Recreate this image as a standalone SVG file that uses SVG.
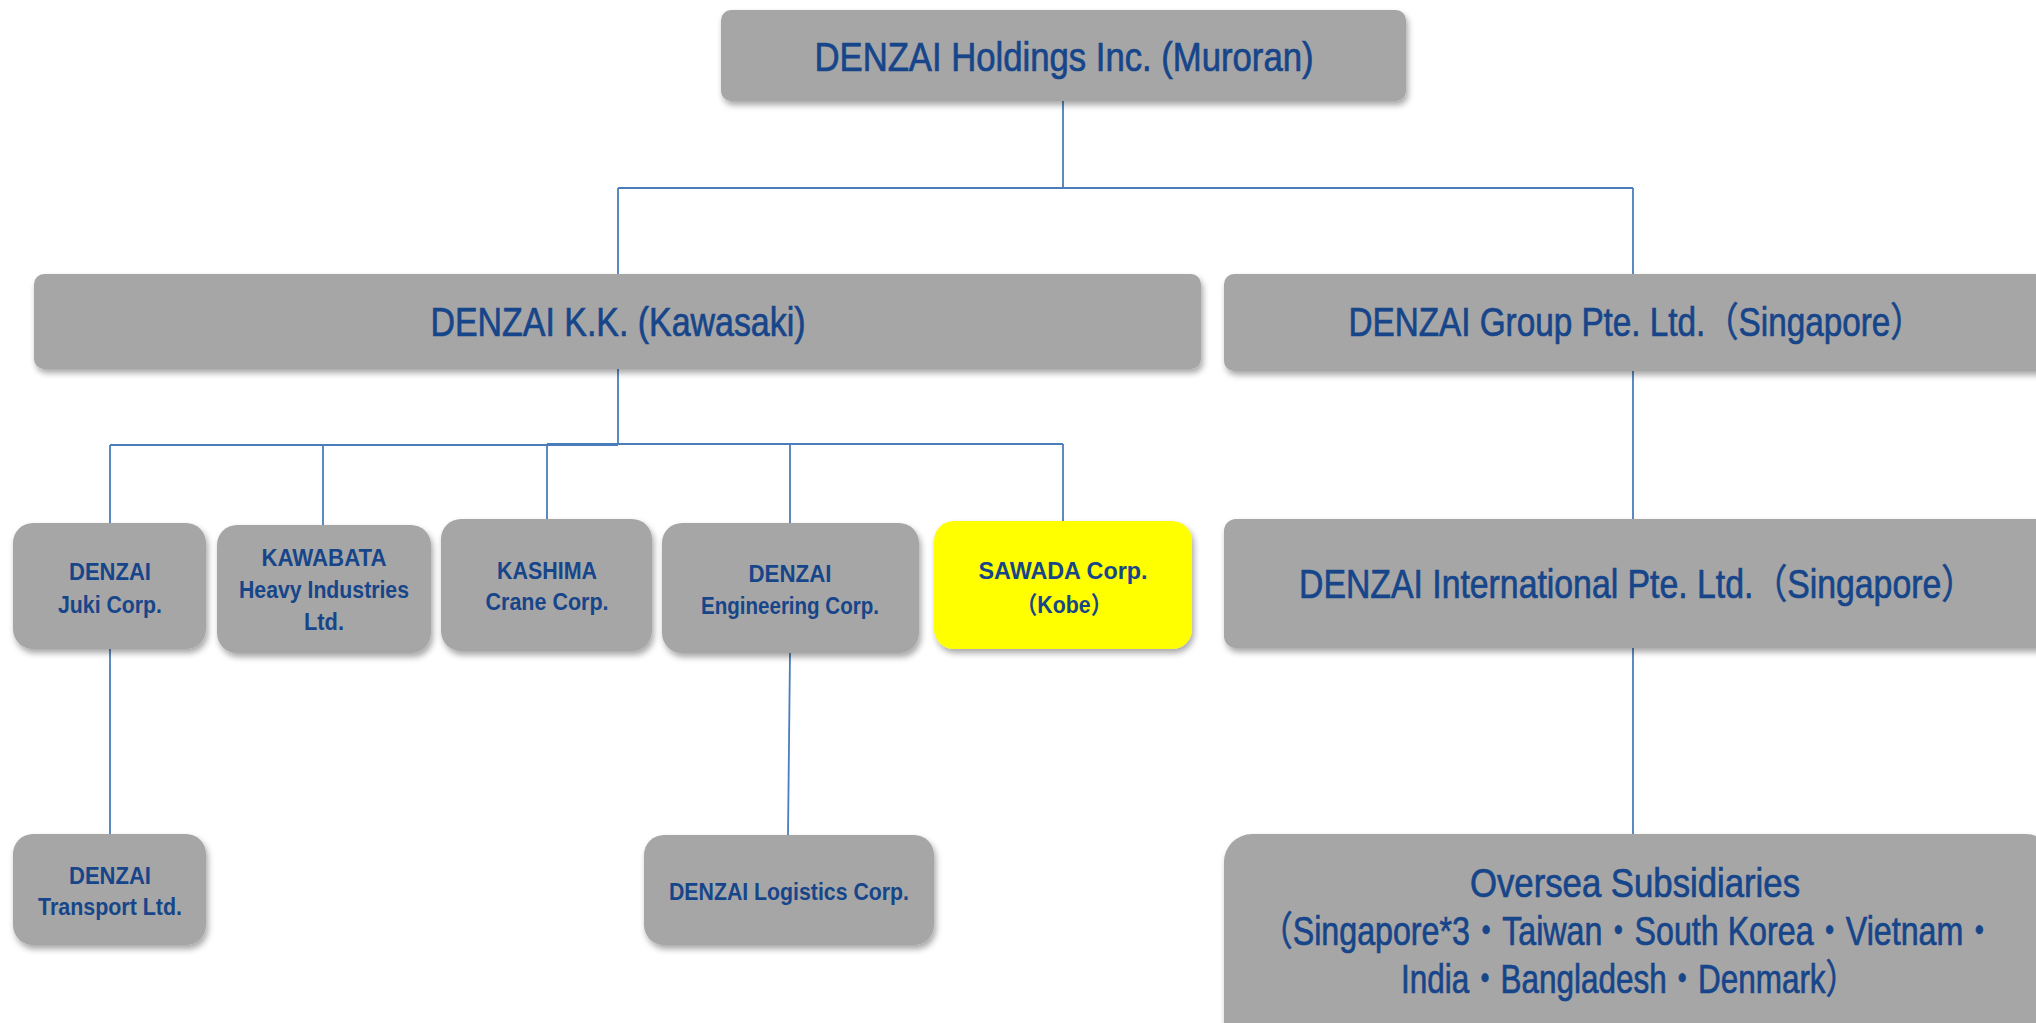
<svg xmlns="http://www.w3.org/2000/svg" width="2036" height="1023" viewBox="0 0 2036 1023">
<style>
.box{fill:#a6a6a6;filter:url(#sh)}
.yel{fill:#ffff00;filter:url(#sh)}
.t{font-family:"Liberation Sans","Noto Sans CJK JP",sans-serif;fill:#17458a;text-anchor:middle}
.big{font-size:40px;stroke:#17458a;stroke-width:0.7}
.sm{font-size:24px;font-weight:bold}
.c line{stroke:#4a7ebb;stroke-width:1.8;fill:none}
</style>
<defs>
<filter id="sh" x="-10%" y="-10%" width="120%" height="130%">
<feDropShadow dx="2" dy="4" stdDeviation="3" flood-color="#000" flood-opacity="0.35"/>
</filter>
</defs>
<rect width="2036" height="1023" fill="#fff"/>
<g class="c" id="connectors">
<line x1="1063" y1="101" x2="1063" y2="188"/>
<line x1="618" y1="188" x2="1633" y2="188"/>
<line x1="618" y1="188" x2="618" y2="274"/>
<line x1="1633" y1="188" x2="1633" y2="274"/>
<line x1="618" y1="369" x2="618" y2="445"/>
<line x1="110" y1="445" x2="618" y2="445"/>
<line x1="547" y1="444" x2="1063" y2="444"/>
<line x1="110" y1="445" x2="110" y2="523"/>
<line x1="323" y1="445" x2="323" y2="525"/>
<line x1="547" y1="444" x2="547" y2="519"/>
<line x1="790" y1="444" x2="790" y2="523"/>
<line x1="1063" y1="444" x2="1063" y2="521"/>
<line x1="1633" y1="371" x2="1633" y2="519"/>
<line x1="1633" y1="648" x2="1633" y2="834"/>
<line x1="110" y1="649" x2="110" y2="834"/>
<line x1="790" y1="653" x2="788" y2="835"/>
</g>
<g id="holdings">
<rect class="box" x="721" y="10" width="685" height="91" rx="10"/>
<text class="t big" x="1064" y="71" textLength="499" lengthAdjust="spacingAndGlyphs">DENZAI Holdings Inc. (Muroran)</text>
</g>
<g id="kk">
<rect class="box" x="34" y="274" width="1167" height="95" rx="10"/>
<text class="t big" x="618" y="336" textLength="375" lengthAdjust="spacingAndGlyphs">DENZAI K.K. (Kawasaki)</text>
</g>
<g id="group">
<rect class="box" x="1224" y="274" width="830" height="97" rx="10"/>
<text class="t big" x="1636" y="336" textLength="575" lengthAdjust="spacingAndGlyphs">DENZAI Group Pte. Ltd.（Singapore）</text>
</g>
<g id="juki">
<rect class="box" x="13" y="523" width="193" height="126" rx="20"/>
<text class="t sm" x="110" y="580" textLength="82" lengthAdjust="spacingAndGlyphs">DENZAI</text>
<text class="t sm" x="110" y="613" textLength="104" lengthAdjust="spacingAndGlyphs">Juki Corp.</text>
</g>
<g id="kawabata">
<rect class="box" x="217" y="525" width="214" height="128" rx="20"/>
<text class="t sm" x="324" y="566" textLength="125" lengthAdjust="spacingAndGlyphs">KAWABATA</text>
<text class="t sm" x="324" y="598" textLength="170" lengthAdjust="spacingAndGlyphs">Heavy Industries</text>
<text class="t sm" x="324" y="630" textLength="40" lengthAdjust="spacingAndGlyphs">Ltd.</text>
</g>
<g id="kashima">
<rect class="box" x="441" y="519" width="211" height="132" rx="20"/>
<text class="t sm" x="547" y="579" textLength="100" lengthAdjust="spacingAndGlyphs">KASHIMA</text>
<text class="t sm" x="547" y="610" textLength="123" lengthAdjust="spacingAndGlyphs">Crane Corp.</text>
</g>
<g id="engineering">
<rect class="box" x="662" y="523" width="257" height="130" rx="20"/>
<text class="t sm" x="790" y="582" textLength="83" lengthAdjust="spacingAndGlyphs">DENZAI</text>
<text class="t sm" x="790" y="614" textLength="178" lengthAdjust="spacingAndGlyphs">Engineering Corp.</text>
</g>
<g id="sawada">
<rect class="yel" x="934" y="521" width="258" height="128" rx="20"/>
<text class="t sm" x="1063" y="579" textLength="169" lengthAdjust="spacingAndGlyphs">SAWADA Corp.</text>
<text class="t sm" x="1064" y="613" textLength="96" lengthAdjust="spacingAndGlyphs">（Kobe）</text>
</g>
<g id="international">
<rect class="box" x="1224" y="519" width="830" height="129" rx="12"/>
<text class="t big" x="1637" y="598" textLength="676" lengthAdjust="spacingAndGlyphs">DENZAI International Pte. Ltd.（Singapore）</text>
</g>
<g id="transport">
<rect class="box" x="13" y="834" width="193" height="111" rx="20"/>
<text class="t sm" x="110" y="884" textLength="82" lengthAdjust="spacingAndGlyphs">DENZAI</text>
<text class="t sm" x="110" y="915" textLength="144" lengthAdjust="spacingAndGlyphs">Transport Ltd.</text>
</g>
<g id="logistics">
<rect class="box" x="644" y="835" width="290" height="110" rx="20"/>
<text class="t sm" x="789" y="900" textLength="240" lengthAdjust="spacingAndGlyphs">DENZAI Logistics Corp.</text>
</g>
<g id="oversea">
<rect class="box" x="1224" y="834" width="830" height="220" rx="28"/>
<text class="t big" x="1635" y="897" textLength="330" lengthAdjust="spacingAndGlyphs">Oversea Subsidiaries</text>
<text class="t big" x="1628" y="945" textLength="735" lengthAdjust="spacingAndGlyphs">（Singapore*3・Taiwan・South Korea・Vietnam・</text>
<text class="t big" x="1629" y="993" textLength="456" lengthAdjust="spacingAndGlyphs">India・Bangladesh・Denmark）</text>
</g>
</svg>
